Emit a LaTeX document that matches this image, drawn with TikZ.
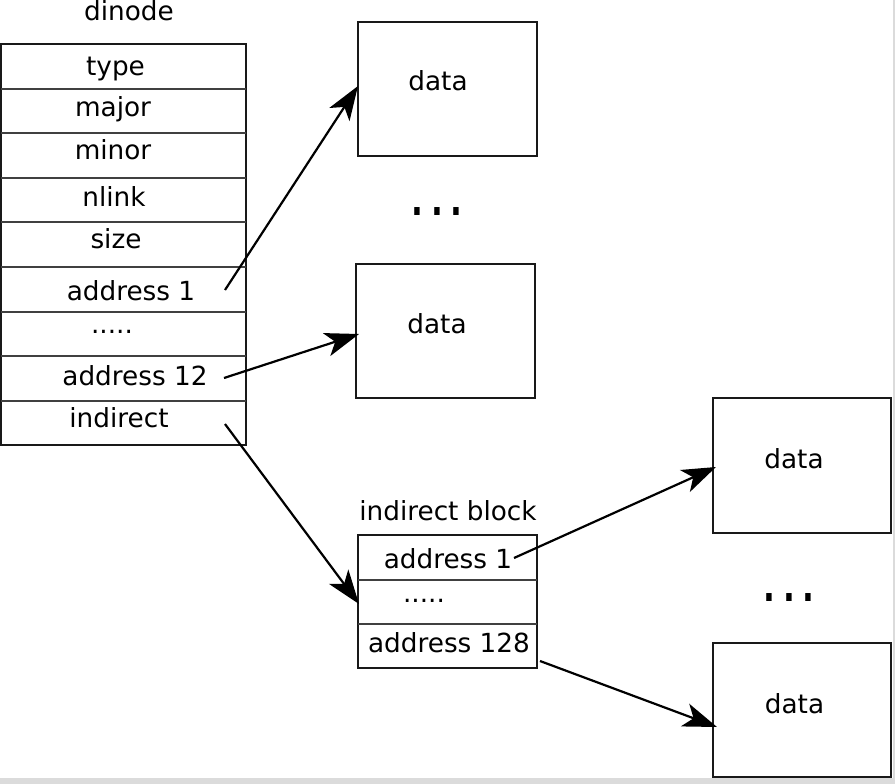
\documentclass[tikz,border=0pt]{standalone}
\usepackage{fontspec}
\setmainfont{DejaVu Sans}
\newfontfamily\dotfont{DejaVu Sans Mono}
\usetikzlibrary{arrows.meta,calc}
\begin{document}
\begin{tikzpicture}[x=1pt,y=-1pt,
  box/.style={draw=black!90,line width=2.2pt,rectangle,inner sep=0pt,outer sep=0pt},
  divider/.style={draw=black!75,line width=1.3pt},
  lbl/.style={anchor=base,inner sep=0pt,font=\fontsize{26.3}{30}\selectfont},
  bigdots/.style={inner sep=0pt,font=\dotfont\bfseries\fontsize{33}{36}\selectfont},
  ptr/.style={line width=2.2pt,-{Stealth[length=34pt,width=24pt,inset=9pt]}}]
% page with its grey edge
\fill[black!14] (0,0) rectangle (895,784);
\fill[white] (0,0) rectangle (892.5,778);
\useasboundingbox (0,0) rectangle (895,784);

% the dinode
\node[lbl] (dinodelbl) at (129,20.5) {dinode};
\node[box,minimum width=245pt,minimum height=401pt] (dinode) at (123.5,244.5) {};
\foreach \yy in {89,133,178,222,267,312,356,401}
  \draw[divider] (1,\yy) -- (246,\yy);
\node[lbl] (ftype)  at (115.5,76)  {type};
\node[lbl] (fmajor) at (113,117)   {major};
\node[lbl] (fminor) at (113,159)   {minor};
\node[lbl] (fnlink) at (114,206)   {nlink};
\node[lbl] (fsize)  at (116,248)   {size};
\node[lbl] (faddr1) at (131,300)   {address 1};
\node[lbl] (fdots)  at (112,333)   {.....};
\node[lbl] (faddr12) at (135,385)  {address 12};
\node[lbl] (findir) at (119,427)   {indirect};

% data blocks
\node[box,minimum width=179pt,minimum height=134pt] (data1) at (447.5,89) {};
\node[lbl] (data1lbl) at (438,91) {data};
\node[box,minimum width=179pt,minimum height=134pt] (data2) at (445.5,331) {};
\node[lbl] (data2lbl) at (437,333) {data};
\node[box,minimum width=178pt,minimum height=135pt] (data3) at (802,465.5) {};
\node[lbl] (data3lbl) at (794,468) {data};
\node[box,minimum width=178pt,minimum height=134pt] (data4) at (802,710) {};
\node[lbl] (data4lbl) at (794.5,713) {data};
\node[bigdots] (gap1) at (437,212) {\scalebox{1}[1.35]{...}};
\node[bigdots] (gap2) at (789,598) {\scalebox{1}[1.35]{...}};

% the indirect block
\node[lbl] (iblocklbl) at (448,520) {indirect block};
\node[box,minimum width=179pt,minimum height=133pt] (iblock) at (447.5,601.5) {};
\draw[divider] (358,580) -- (537,580);
\draw[divider] (358,624) -- (537,624);
\node[lbl] (baddr1) at (448,568) {address 1};
\node[lbl] (bdots)  at (424,602) {.....};
\node[lbl] (baddr128) at (449,652) {address 128};

% pointer tails
\coordinate (t1) at (225,290);
\coordinate (t12) at (224,378);
\coordinate (tind) at (225,424);
\coordinate (tb1) at (514,558);
\coordinate (tb128) at (540,661);

% pointers
\draw[ptr] (t1) -- ($(data1.west)+(0,-3)$);
\draw[ptr] (t12) -- ($(data2.west)+(3,3)$);
\draw[ptr] (tind) -- ($(iblock.west)+(1,2.5)$);
\draw[ptr] (tb1) -- ($(data3.west)+(3,1.5)$);
\draw[ptr] (tb128) -- ($(data4.west)+(4,17)$);
\end{tikzpicture}
\end{document}
